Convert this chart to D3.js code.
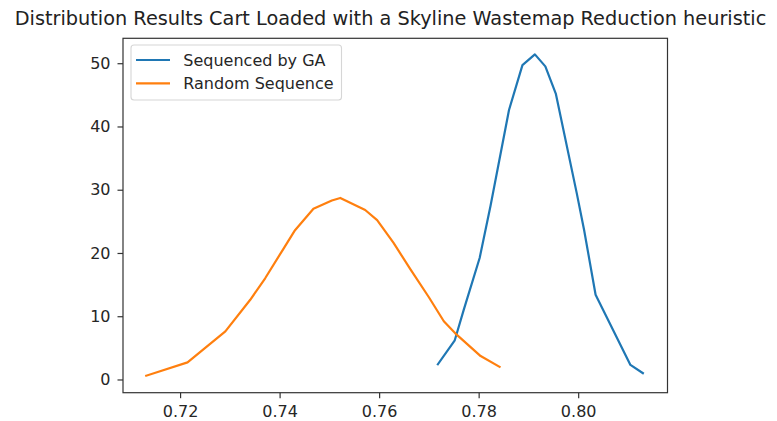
<!DOCTYPE html>
<html>
<head>
<meta charset="utf-8">
<script src="https://cdn.jsdelivr.net/npm/d3@7"></script>
<style>
  html, body { margin: 0; padding: 0; background: #fff; }
  svg { display: block; font-family: "DejaVu Sans", sans-serif; }
</style>
</head>
<body>
<svg id="chart" width="777" height="421"></svg>
<script>
// Density curves of load results for the two sequencing strategies
const gaX = [0.7718, 0.7752, 0.7770, 0.7802, 0.7824, 0.7861, 0.7888, 0.7913, 0.7934, 0.7955, 0.7997, 0.8012, 0.8035, 0.8105, 0.8130];
const gaY = [2.4, 6.2, 11.0, 19.2, 27.5, 42.6, 49.7, 51.4, 49.5, 45.2, 29.5, 23.6, 13.4, 2.3, 1.0];

const randX = [0.7132, 0.7215, 0.7291, 0.7341, 0.7371, 0.7408, 0.7431, 0.7468, 0.7505, 0.7522, 0.7572, 0.7596, 0.7629, 0.7663, 0.7700, 0.7730, 0.7753, 0.7804, 0.7842];
const randY = [0.6, 2.7, 7.6, 12.6, 16.0, 20.7, 23.6, 27.0, 28.3, 28.7, 26.8, 25.2, 21.6, 17.4, 13.0, 9.2, 7.3, 3.7, 2.0];

const xTicks = [0.72, 0.74, 0.76, 0.78, 0.80];
const yTicks = [0, 10, 20, 30, 40, 50];

const seriesNames = ["Sequenced by GA", "Random Sequence"];
const seriesColors = ["#1f77b4", "#ff7f0e"];
const titleText = "Distribution Results Cart Loaded with a Skyline Wastemap Reduction heuristic";

const box = { left: 123, right: 667.5, top: 38.3, bottom: 392.7 };

const svg = d3.select("#chart");

const x = d3.scaleLinear().domain([0.70853, 0.81795]).range([box.left, box.right]);
const y = d3.scaleLinear().domain([-2.09, 53.94]).range([box.bottom, box.top]);

const series = [
  { name: seriesNames[0], color: seriesColors[0], pts: gaX.map((v, i) => [v, gaY[i]]) },
  { name: seriesNames[1], color: seriesColors[1], pts: randX.map((v, i) => [v, randY[i]]) }
];

const line = d3.line().x(d => x(d[0])).y(d => y(d[1]));

// curves
svg.append("g").selectAll("path")
  .data(series)
  .join("path")
  .attr("d", d => line(d.pts))
  .attr("fill", "none")
  .attr("stroke", d => d.color)
  .attr("stroke-width", 2.2)
  .attr("stroke-linejoin", "round")
  .attr("stroke-linecap", "square");

// axes
const xAxis = svg.append("g")
  .attr("transform", `translate(0,${box.bottom})`)
  .call(d3.axisBottom(x).tickValues(xTicks).tickFormat(d3.format(".2f")).tickSizeOuter(0).tickSize(5.5).tickPadding(7));

const yAxis = svg.append("g")
  .attr("transform", `translate(${box.left},0)`)
  .call(d3.axisLeft(y).tickValues(yTicks).tickFormat(d3.format("d")).tickSizeOuter(0).tickSize(5.5).tickPadding(7));

[xAxis, yAxis].forEach(g => {
  g.select(".domain").remove();
  g.selectAll(".tick line").attr("stroke", "#333").attr("stroke-width", 1.2);
  g.selectAll(".tick text").attr("fill", "#262626").attr("font-size", 16)
    .attr("font-family", "DejaVu Sans, sans-serif");
});

// frame
svg.append("rect")
  .attr("x", box.left).attr("y", box.top)
  .attr("width", box.right - box.left).attr("height", box.bottom - box.top)
  .attr("fill", "none").attr("stroke", "#333").attr("stroke-width", 1.2);

// title, kept inside the canvas width
svg.append("text")
  .attr("x", 390.5)
  .attr("y", 25)
  .attr("text-anchor", "middle")
  .attr("font-size", 19.3)
  .attr("fill", "#222")
  .text(titleText);

// legend
const lg = svg.append("g");
lg.append("rect")
  .attr("x", 131).attr("y", 45)
  .attr("width", 210.5).attr("height", 55)
  .attr("rx", 3).attr("ry", 3)
  .attr("fill", "#fff").attr("fill-opacity", 0.8)
  .attr("stroke", "#d6d6d6").attr("stroke-width", 1.1);

const items = lg.selectAll("g.item")
  .data(series)
  .join("g")
  .attr("class", "item")
  .attr("transform", (d, i) => `translate(0,${60 + i * 23.3})`);

items.append("line")
  .attr("x1", 136).attr("x2", 170)
  .attr("stroke", d => d.color)
  .attr("stroke-width", 2.2);

items.append("text")
  .attr("x", 183.3)
  .attr("dy", "0.35em")
  .attr("font-size", 16)
  .attr("fill", "#262626")
  .text(d => d.name);
</script>
</body>
</html>
